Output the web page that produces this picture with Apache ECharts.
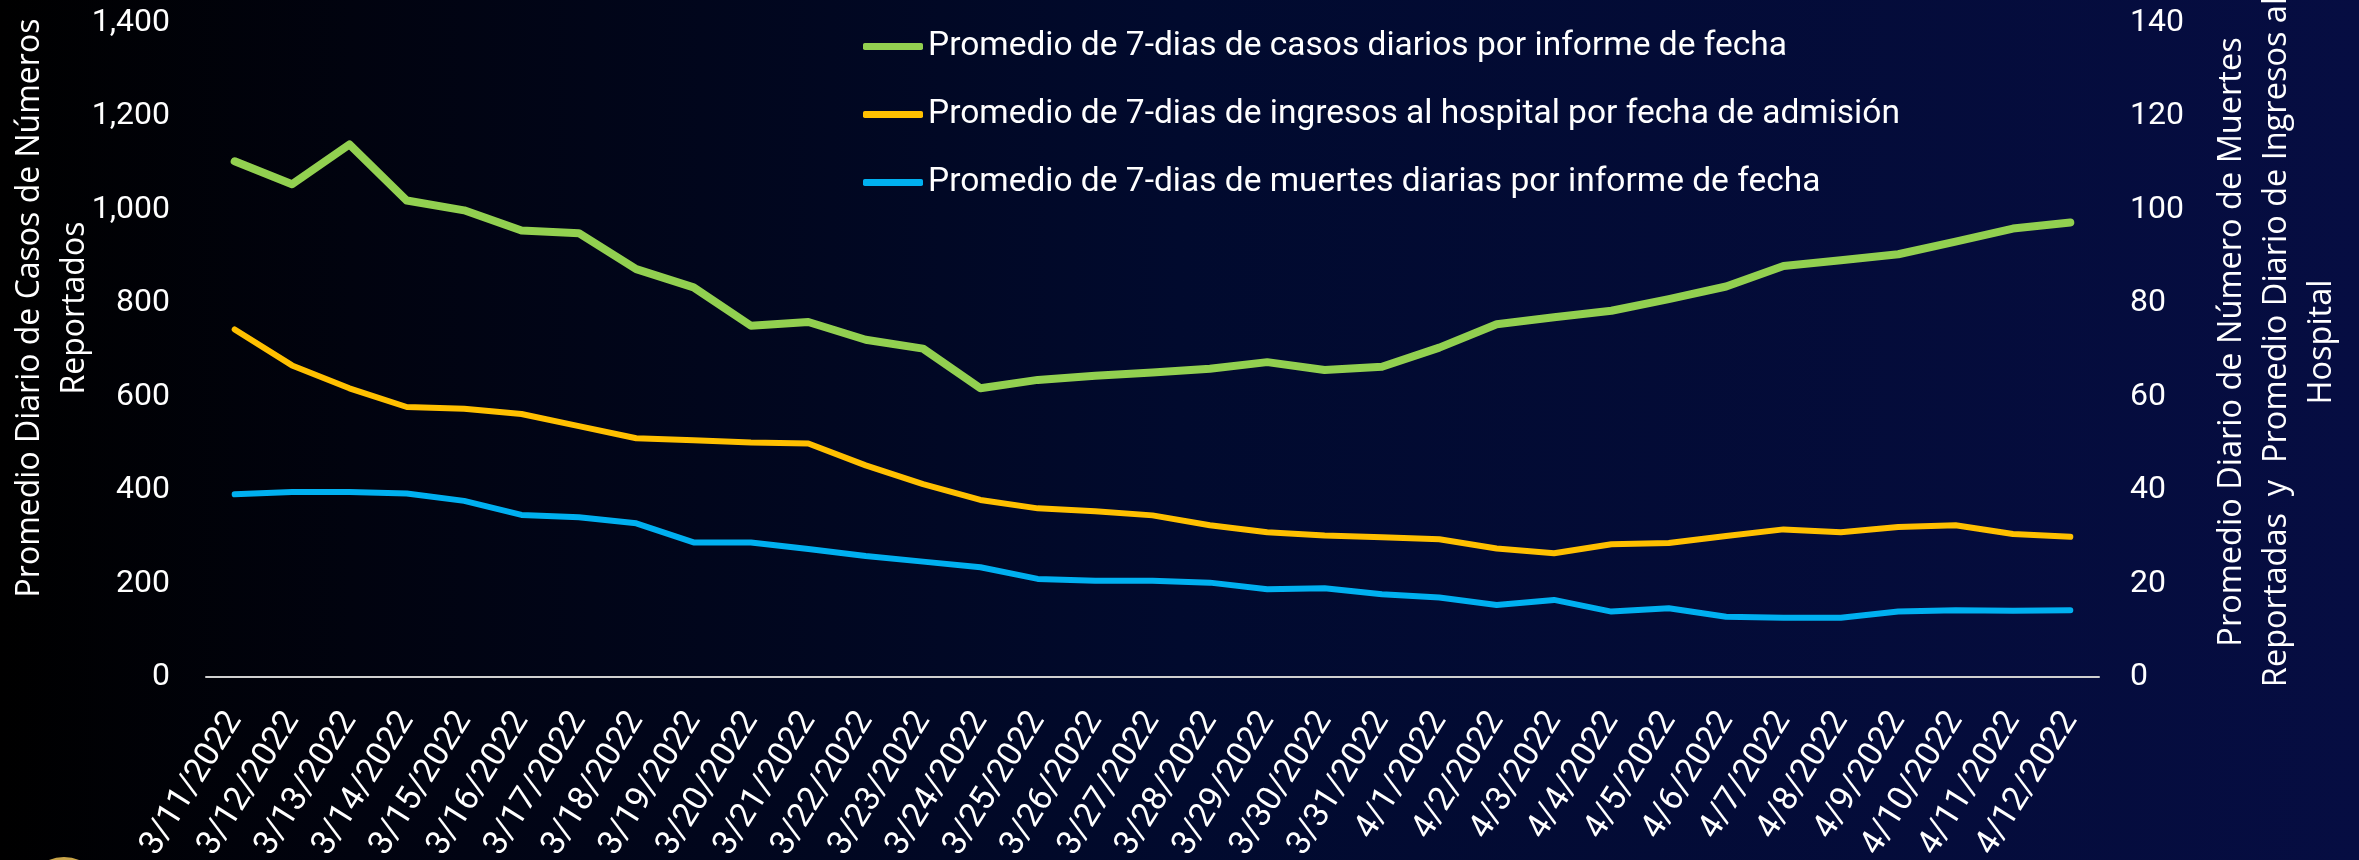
<!DOCTYPE html>
<html>
<head>
<meta charset="utf-8">
<title>Promedio de 7-dias</title>
<script src="https://cdn.jsdelivr.net/npm/echarts@6/dist/echarts.min.js"></script>
<style>
	html, body { margin: 0; padding: 0; background: #000; }
	#chart { width: 2359px; height: 860px; }
</style>
</head>
<body>
<div id="chart"></div>
<script>
var fechas = ['3/11/2022', '3/12/2022', '3/13/2022', '3/14/2022', '3/15/2022', '3/16/2022', '3/17/2022', '3/18/2022',
	'3/19/2022', '3/20/2022', '3/21/2022', '3/22/2022', '3/23/2022', '3/24/2022', '3/25/2022', '3/26/2022',
	'3/27/2022', '3/28/2022', '3/29/2022', '3/30/2022', '3/31/2022', '4/1/2022', '4/2/2022', '4/3/2022',
	'4/4/2022', '4/5/2022', '4/6/2022', '4/7/2022', '4/8/2022', '4/9/2022', '4/10/2022', '4/11/2022', '4/12/2022'];

// left axis: cases
var casos = [1104, 1055, 1140, 1020, 999, 956, 950, 873, 834, 752, 760, 722, 703, 618, 636, 645, 652, 660, 674, 657,
	664, 705, 755, 770, 784, 809, 836, 880, 892, 905, 932, 960, 973];

// right axis: hospital admissions and deaths
var ingresos = [74.4, 66.7, 61.8, 57.8, 57.4, 56.3, 53.7, 51.1, 50.7, 50.2, 50.0, 45.3, 41.3, 37.9, 36.1, 35.5,
	34.6, 32.5, 31.0, 30.3, 29.9, 29.5, 27.5, 26.5, 28.4, 28.7, 30.2, 31.6, 31.0, 32.1, 32.5, 30.6, 30.0];
var muertes = [39.1, 39.6, 39.6, 39.3, 37.7, 34.7, 34.2, 32.9, 28.8, 28.8, 27.4, 25.9, 24.7, 23.5, 21.0, 20.6,
	20.6, 20.2, 18.8, 19.0, 17.7, 17.0, 15.4, 16.5, 14.0, 14.7, 12.9, 12.7, 12.7, 14.0, 14.3, 14.2, 14.3];

var nombres = [
	'Promedio de 7-dias de casos diarios por informe de fecha',
	'Promedio de 7-dias de ingresos al hospital por fecha de admisión',
	'Promedio de 7-dias de muertes diarias por informe de fecha'
];

var tituloIzq = 'Promedio Diario de Casos de Números\nReportados';
var tituloDer = 'Promedio Diario de Número de Muertes\nReportadas  y  Promedio Diario de Ingresos al\nHospital';

var myChart = echarts.init(document.getElementById('chart'));
var option = {
	backgroundColor: {
		type: 'linear', x: 0, y: 0, x2: 1, y2: 0,
		colorStops: [
			{ offset: 0, color: '#000000' },
			{ offset: 0.15, color: '#01030f' },
			{ offset: 0.5, color: '#010a2e' },
			{ offset: 1, color: '#060d42' }
		]
	},
	animation: false,
	grid: {
		left: 206,
		right: 260,
		top: 23,
		bottom: 183,
		containLabel: false,
		outerBoundsMode: 'none'
	},
	legend: {
		orient: 'vertical',
		left: 858,
		top: 23,
		itemWidth: 60,
		itemHeight: 7,
		itemGap: 31,
		icon: 'roundRect',
		data: nombres,
		textStyle: {
			color: '#ffffff',
			fontFamily: 'Roboto',
			fontSize: 33.5,
			lineHeight: 37
		}
	},
	xAxis: {
		type: 'category',
		data: fechas,
		boundaryGap: true,
		axisLine: {
			show: true,
			lineStyle: { color: '#d0d0d0', width: 2 }
		},
		axisTick: { show: false },
		splitLine: { show: false },
		axisLabel: {
			interval: 0,
			rotate: 58,
			margin: 38,
			color: '#ffffff',
			fontFamily: 'Roboto',
			fontSize: 34
		}
	},
	yAxis: [{
		type: 'value',
		min: 0,
		max: 1400,
		interval: 200,
		axisLine: { show: false },
		axisTick: { show: false },
		splitLine: { show: false },
		axisLabel: {
			margin: 36,
			color: '#ffffff',
			fontFamily: 'Roboto',
			fontSize: 32,
			formatter: function(val) {
				return val.toLocaleString('en-US');
			}
		}
	}, {
		type: 'value',
		position: 'right',
		min: 0,
		max: 140,
		interval: 20,
		axisLine: { show: false },
		axisTick: { show: false },
		splitLine: { show: false },
		axisLabel: {
			margin: 31,
			color: '#ffffff',
			fontFamily: 'Roboto',
			fontSize: 32
		}
	}],
	graphic: [{
		type: 'text',
		x: 52,
		y: 308,
		rotation: Math.PI / 2,
		style: {
			text: tituloIzq,
			fill: '#ffffff',
			font: '32px "Open Sans"',
			lineHeight: 45,
			align: 'center',
			verticalAlign: 'middle'
		}
	}, {
		type: 'text',
		x: 2277,
		y: 342,
		rotation: Math.PI / 2,
		style: {
			text: tituloDer,
			fill: '#ffffff',
			font: '32.5px "Open Sans"',
			lineHeight: 45,
			align: 'center',
			verticalAlign: 'middle'
		}
	}, {
		type: 'circle',
		shape: { cx: 64, cy: 895, r: 36 },
		style: { fill: '#ffffff', stroke: '#c9a54a', lineWidth: 4 }
	}],
	series: [{
		name: nombres[0],
		type: 'line',
		yAxisIndex: 0,
		data: casos,
		symbol: 'none',
		color: '#92d050',
		lineStyle: { width: 8, cap: 'round', join: 'round' }
	}, {
		name: nombres[1],
		type: 'line',
		yAxisIndex: 1,
		data: ingresos,
		symbol: 'none',
		color: '#ffc000',
		lineStyle: { width: 6, cap: 'round', join: 'round' }
	}, {
		name: nombres[2],
		type: 'line',
		yAxisIndex: 1,
		data: muertes,
		symbol: 'none',
		color: '#00b0f0',
		lineStyle: { width: 6, cap: 'round', join: 'round' }
	}]
};
myChart.setOption(option);
window.addEventListener('resize', function() {
	myChart.resize();
});
</script>
</body>
</html>
